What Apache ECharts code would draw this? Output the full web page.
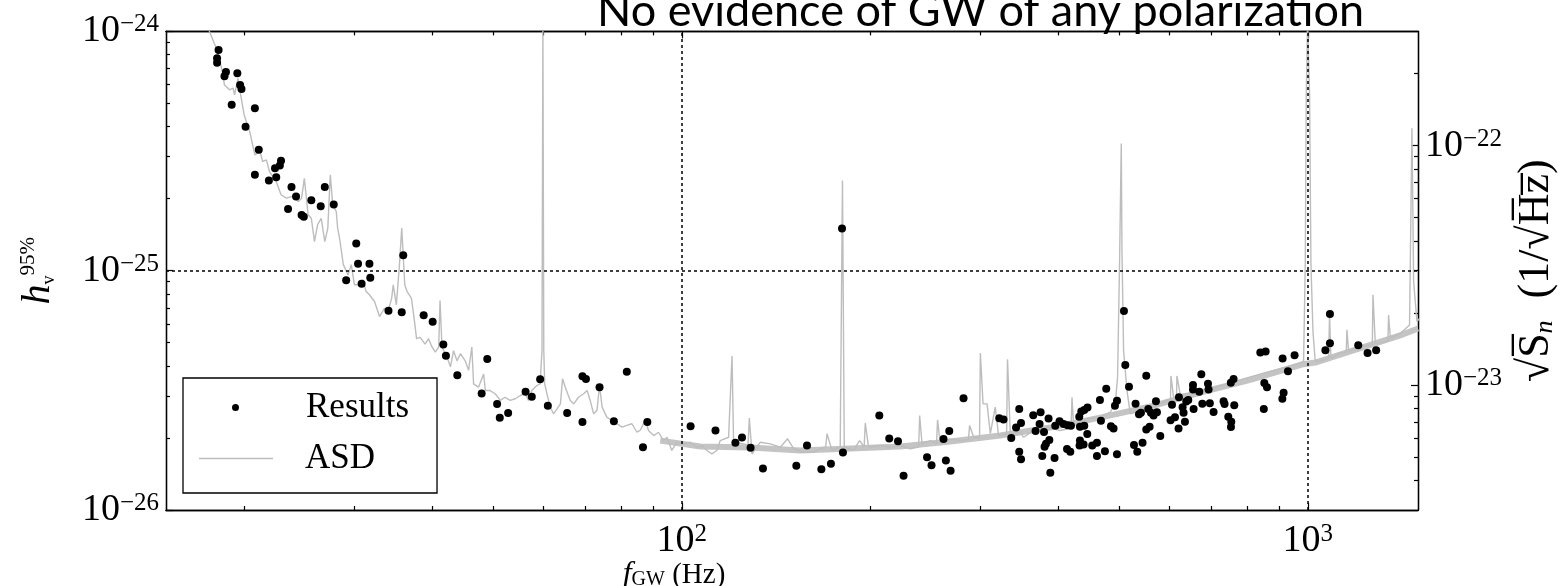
<!DOCTYPE html>
<html><head><meta charset="utf-8">
<script src="https://cdn.jsdelivr.net/npm/echarts@6/dist/echarts.min.js"></script>
<style>html,body{margin:0;padding:0;background:#fff}#c{width:1562px;height:586px}</style>
</head><body><div id="c"></div>
<script>
const titleText = 'No evidence of GW of any polarization';
const xMajorExp = [2, 3];
const xMinorTicks = [20,30,40,50,60,70,80,90,200,300,400,500,600,700,800,900];
const yLeftExp = [-26, -25, -24];
const yLeftMinorTicks = [2e-26,3e-26,4e-26,5e-26,6e-26,7e-26,8e-26,9e-26,2e-25,3e-25,4e-25,5e-25,6e-25,7e-25,8e-25,9e-25];
const yRightExp = [-23, -22];
const yRightMinorTicks = [4e-24,5e-24,6e-24,7e-24,8e-24,9e-24,2e-23,3e-23,4e-23,5e-23,6e-23,7e-23,8e-23,9e-23,2e-22];
const gridLinesX = [100, 1000];
const gridLinesY = [1e-25];

const resultsFreq = [
18.2,18.1,18.1,18.7,18.6,19.5,19.7,19.8,19.1,20.8,
20.1,21.1,20.8,22.9,22.8,22.4,22.5,21.9,23.8,26.9,
24.2,25.6,26.5,27.8,23.5,24.7,24.9,30.2,30.4,31.7,
35.9,29.1,30.8,31.8,34.0,35.7,38.7,40.0,41.6,42.0,
43.8,48.9,47.9,50.7,51.2,52.8,56.3,57.6,59.4,61.1,
65.6,69.4,70.3,69.4,73.9,81.7,77.9,88.1,86.7,103.3,
113.2,121.8,124.8,128.8,134.8,152.4,158.5,167.1,173.1,180.3,
180.9,206.8,214.5,221.5,226.1,246.5,250.6,261.9,267.5,264.2,
268.8,281.9,321.5,326.6,336.0,342.0,346.0,348.3,346.0,348.3,
364.3,374.3,372.9,367.4,379.0,385.4,386.5,381.8,379.8,376.6,
387.9,394.0,395.0,401.3,407.3,413.4,418.5,412.5,417.5,431.5,
434.7,439.5,444.8,432.6,439.5,444.4,432.6,432.0,438.4,452.6,
460.5,460.5,474.2,465.6,467.3,476.5,484.8,489.5,492.0,495.7,
495.7,508.6,511.1,518.1,530.8,537.5,541.4,527.7,534.1,544.6,
552.1,556.2,561.7,572.1,574.2,567.1,552.1,558.9,581.3,606.9,
613.6,603.7,622.6,621.7,636.5,633.3,631.0,639.6,644.4,655.6,
655.6,657.1,671.0,676.0,678.5,692.8,694.3,697.5,707.2,733.7,
736.4,746.5,754.8,753.9,753.5,761.2,763.1,839.8,856.4,852.3,
860.8,850.7,911.6,952.6,929.8,915.0,910.8,1067,1085,1085,
1204,1246,1286];
const resultsH = [
8.36e-25,7.72e-25,7.40e-25,6.76e-25,6.49e-25,6.68e-25,5.97e-25,5.74e-25,4.94e-25,4.77e-25,
4.00e-25,3.20e-25,2.52e-25,2.88e-25,2.75e-25,2.68e-25,2.46e-25,2.38e-25,2.24e-25,2.24e-25,
2.04e-25,1.97e-25,1.86e-25,1.89e-25,1.81e-25,1.71e-25,1.68e-25,1.30e-25,1.07e-25,1.07e-25,
1.16e-25,9.12e-26,8.82e-26,9.35e-26,6.81e-26,6.70e-26,6.51e-26,6.12e-26,4.92e-26,4.41e-26,
3.66e-26,4.28e-26,3.07e-26,2.77e-26,2.43e-26,2.54e-26,3.12e-26,2.97e-26,3.52e-26,2.73e-26,
2.54e-26,3.62e-26,3.53e-26,2.33e-26,3.26e-26,3.78e-26,2.35e-26,2.33e-26,1.83e-26,2.24e-26,
2.15e-26,1.91e-26,2.01e-26,1.82e-26,1.49e-26,1.53e-26,1.86e-26,1.48e-26,1.56e-26,1.50e-25,
1.74e-26,2.48e-26,1.99e-26,1.94e-26,1.39e-26,1.66e-26,1.54e-26,1.98e-26,2.14e-26,1.61e-26,
1.46e-26,2.93e-26,2.42e-26,2.39e-26,2.00e-26,2.21e-26,2.64e-26,2.31e-26,1.75e-26,1.63e-26,
2.49e-26,2.56e-26,2.29e-26,2.14e-26,2.12e-26,2.41e-26,1.96e-26,1.89e-26,1.84e-26,1.68e-26,
1.43e-26,1.65e-26,2.25e-26,2.35e-26,2.29e-26,2.26e-26,2.25e-26,1.80e-26,1.75e-26,2.45e-26,
2.58e-26,2.62e-26,2.68e-26,2.23e-26,2.25e-26,2.08e-26,1.95e-26,1.86e-26,1.88e-26,1.86e-26,
1.91e-26,1.68e-26,1.76e-26,2.88e-26,2.36e-26,3.21e-26,2.24e-26,2.19e-26,2.73e-26,2.86e-26,
1.71e-26,6.79e-26,4.04e-26,3.27e-26,2.78e-26,2.51e-26,2.55e-26,1.87e-26,1.75e-26,1.91e-26,
3.64e-26,2.64e-26,2.55e-26,2.85e-26,2.56e-26,2.48e-26,2.17e-26,2.23e-26,2.04e-26,2.75e-26,
2.44e-26,2.37e-26,2.96e-26,2.19e-26,2.34e-26,2.55e-26,2.69e-26,2.84e-26,2.88e-26,3.33e-26,
3.19e-26,2.64e-26,3.12e-26,3.69e-26,2.78e-26,3.37e-26,3.19e-26,2.79e-26,2.57e-26,2.85e-26,
2.77e-26,2.45e-26,2.34e-26,2.22e-26,3.40e-26,3.53e-26,2.74e-26,4.55e-26,4.60e-26,3.39e-26,
3.26e-26,2.64e-26,4.30e-26,4.43e-26,3.80e-26,3.09e-26,2.92e-26,4.65e-26,6.59e-26,4.97e-26,
4.88e-26,4.53e-26,4.65e-26];

const asdFreq = [
17.3,17.6,18.05,18.4,18.6,18.95,19.2,19.3,19.55,19.7,
20.0,20.4,20.8,21.2,21.4,21.7,21.95,22.5,22.9,23.35,
23.9,24.4,24.7,24.95,25.3,25.6,25.9,26.2,26.55,26.9,
27.2,27.45,27.7,28.06,28.2,28.4,28.8,29.3,29.65,30.0,
30.6,30.95,31.3,31.7,32.3,32.9,33.5,33.95,34.4,34.6,
35.0,35.4,35.7,36.1,36.4,37.0,37.4,37.7,38.2,38.9,
39.4,39.9,40.4,40.9,41.1,41.4,42.2,42.7,43.2,43.75,
44.3,45.1,45.65,46.2,46.5,47.35,48.25,48.55,49.4,50.35,
51.3,52.2,53.2,54.2,55.2,56.2,56.9,57.6,58.7,59.4,
59.8,60.0,60.2,60.4,60.9,61.65,62.4,63.2,64.0,64.5,
65.15,66.35,67.2,68.4,69.7,70.6,71.4,72.3,73.2,73.9,
74.6,75.9,77.3,78.8,80.3,81.7,83.25,84.8,85.8,87.4,
88.5,90.2,91.8,93.5,94.7,96.4,98.2,100.7,103.2,105.8,
107.7,109.7,111.7,113.8,115.2,118.8,120.3,121.0,125.5,127.6,
128.2,129.5,133.5,138.5,143.7,147.6,150.9,156.5,162.4,166.4,
169.8,170.6,173.8,179.1,180.6,181.8,188.1,192.3,195.6,196.4,
198.8,207.5,215.3,223.4,231.7,239.0,239.9,242.0,249.5,255.3,
256.2,258.8,268.5,278.6,287.0,288.3,292.6,299.0,299.9,302.9,
307.4,311.1,316.8,320.7,330.3,331.4,334.8,347.3,351.6,364.8,
383.2,402.3,418.7,420.1,422.6,444.0,466.1,483.6,492.6,496.8,
500.5,503.6,504.9,507.9,514.3,520.6,540.1,567.1,595.8,603.5,
604.6,610.4,617.0,618.0,625.6,665.3,707.2,752.0,799.7,850.2,
903.9,949.1,984.7,990.8,994.5,999.3,1006.6,1011.8,1019.3,1028,
1060,1080,1083.4,1089,1127,1152,1155,1162,1213,1268,
1271,1282,1343,1346,1355,1405,1454,1464,1467,1476,
1494,1510];
const asdVal = [
3.67e-22,3.00e-22,2.55e-22,2.11e-22,1.79e-22,1.71e-22,1.74e-22,1.63e-22,1.91e-22,1.68e-22,
1.34e-22,1.15e-22,9.15e-23,9.45e-23,8.58e-23,8.72e-23,7.79e-23,7.08e-23,6.23e-23,6.03e-23,
6.13e-23,5.84e-23,6.03e-23,7.30e-23,5.14e-23,4.97e-23,3.97e-23,4.67e-23,4.97e-23,3.97e-23,
4.52e-23,7.55e-23,5.65e-23,5.30e-23,4.52e-23,4.10e-23,3.18e-23,2.88e-23,3.18e-23,2.62e-23,
2.62e-23,2.75e-23,2.46e-23,2.38e-23,2.23e-23,1.93e-23,2.09e-23,2.03e-23,2.30e-23,2.62e-23,
2.16e-23,3.18e-23,4.52e-23,2.62e-23,2.46e-23,2.30e-23,1.86e-23,1.56e-23,1.58e-23,1.48e-23,
1.56e-23,1.44e-23,1.37e-23,1.44e-23,2.25e-23,1.44e-23,1.30e-23,1.19e-23,1.39e-23,1.26e-23,
1.35e-23,1.26e-23,1.15e-23,1.44e-23,1.01e-23,9.78e-24,1.11e-23,9.47e-24,9.47e-24,9.18e-24,
8.61e-24,8.88e-24,8.61e-24,8.75e-24,9.03e-24,9.18e-24,8.61e-24,9.47e-24,9.94e-24,1.01e-23,
1.39e-23,3.10e-22,1.39e-23,1.01e-23,9.18e-24,8.07e-24,7.57e-24,7.94e-24,8.33e-24,1.06e-23,
9.78e-24,8.61e-24,8.33e-24,8.88e-24,9.18e-24,9.47e-24,8.61e-24,7.57e-24,7.81e-24,9.94e-24,
8.07e-24,7.33e-24,7.10e-24,6.88e-24,6.66e-24,6.77e-24,6.88e-24,6.34e-24,6.45e-24,7.10e-24,
6.45e-24,6.14e-24,6.34e-24,5.85e-24,6.04e-24,5.32e-24,5.76e-24,5.67e-24,5.76e-24,5.49e-24,
5.58e-24,5.32e-24,5.15e-24,5.32e-24,5.85e-24,6.04e-24,1.32e-23,5.76e-24,5.67e-24,5.60e-24,
7.26e-24,5.15e-24,5.76e-24,5.67e-24,5.49e-24,5.95e-24,5.41e-24,5.23e-24,5.23e-24,5.41e-24,
5.50e-24,6.25e-24,5.32e-24,5.49e-24,7.14e-23,5.49e-24,5.32e-24,5.85e-24,5.50e-24,6.92e-24,
5.49e-24,5.58e-24,5.49e-24,5.58e-24,5.41e-24,5.50e-24,7.45e-24,5.67e-24,5.85e-24,5.70e-24,
7.14e-24,5.67e-24,5.95e-24,5.85e-24,5.90e-24,6.77e-24,6.04e-24,6.00e-24,1.36e-23,8.33e-24,
8.33e-24,6.25e-24,8.07e-24,6.14e-24,6.20e-24,1.28e-23,6.25e-24,6.34e-24,6.04e-24,6.45e-24,
6.66e-24,6.45e-24,6.60e-24,8.88e-24,6.77e-24,7.21e-24,7.33e-24,7.69e-24,8.33e-24,1.08e-23,
3.31e-23,1.02e-22,3.64e-23,1.39e-23,9.47e-24,7.57e-24,7.81e-24,8.07e-24,8.61e-24,8.70e-24,
1.09e-23,8.88e-24,8.90e-24,1.09e-23,9.09e-24,9.38e-24,9.68e-24,1.02e-23,1.07e-23,1.12e-23,
1.17e-23,1.21e-23,1.25e-23,3.18e-23,1.63e-22,3.30e-22,1.63e-22,3.18e-23,1.67e-23,1.25e-23,
1.27e-23,1.30e-23,1.96e-23,1.29e-23,1.36e-23,1.37e-23,1.70e-23,1.38e-23,1.45e-23,1.47e-23,
2.38e-23,1.49e-23,1.52e-23,1.96e-23,1.57e-23,1.64e-23,1.78e-23,1.79e-23,1.18e-22,2.70e-23,
1.84e-23,1.90e-23];

const asdBandFreq = [92.4,107.1,128.7,154.6,185.9,223.4,268.5,322.7,387.9,466.1,560.3,673.5,809.2,983.5,1028,1169,1405,1500];
const asdBandVal = [5.85e-24,5.53e-24,5.47e-24,5.32e-24,5.42e-24,5.53e-24,5.80e-24,6.14e-24,6.63e-24,7.30e-24,8.12e-24,9.29e-24,1.05e-23,1.22e-23,1.24e-23,1.38e-23,1.61e-23,1.72e-23];

// ECharts rounds very small numbers to 0 on log axes, so each y axis works in a unit
// (left: 1e-26, right: 1e-24) and its tick labels show the true powers of ten.
const LEFT_UNIT_EXP = -26, RIGHT_UNIT_EXP = -24;
const toLeft = v => +(v * Math.pow(10, -LEFT_UNIT_EXP)).toPrecision(12);
const toRight = v => +(v * Math.pow(10, -RIGHT_UNIT_EXP)).toPrecision(12);

const SERIF = '"Liberation Serif", "Times New Roman", serif';
function powText(e) { return '{b|10}{s|' + String(e).replace('-', '\u2212') + '}'; }
const powLabel = shift => v => powText(Math.round(Math.log10(v)) + shift);
const powRich = {
  b: { fontFamily: SERIF, fontSize: 38, lineHeight: 38, color: '#000', verticalAlign: 'bottom' },
  s: { fontFamily: SERIF, fontSize: 25, lineHeight: 22, color: '#000', verticalAlign: 'top' }
};
const lineStyleBlack = { color: '#000', width: 1.3 };
const tickStyle = { color: '#000', width: 1.2 };

function xAx(pos, ticks, len, labels) {
  return {
    type: 'log', logBase: 10, min: 15, max: 1500, position: pos,
    axisLine: { show: true, onZero: false, lineStyle: lineStyleBlack },
    axisTick: { show: true, inside: true, length: len, customValues: ticks, lineStyle: tickStyle },
    axisLabel: { show: !!labels, customValues: labels || [], formatter: powLabel(0), rich: powRich, margin: 12 },
    splitLine: { show: false }, minorTick: { show: false }, minorSplitLine: { show: false }
  };
}
function yAx(pos, min, max, ticks, len, labels, shift) {
  return {
    type: 'log', logBase: 10, min: min, max: max, position: pos,
    axisLine: { show: true, onZero: false, lineStyle: lineStyleBlack },
    axisTick: { show: true, inside: true, length: len, customValues: ticks, lineStyle: tickStyle },
    axisLabel: { show: !!labels, customValues: labels || [], formatter: powLabel(shift), rich: powRich, margin: 7,
                 showMinLabel: true, showMaxLabel: true, hideOverlap: false },
    splitLine: { show: false }, minorTick: { show: false }, minorSplitLine: { show: false }
  };
}

const xMajor = xMajorExp.map(e => Math.pow(10, e));
const yLeftMajor = yLeftExp.map(e => toLeft(Math.pow(10, e)));
const yRightMajor = yRightExp.map(e => toRight(Math.pow(10, e)));
const yLeftMin = toLeft(1e-26), yLeftMax = toLeft(1e-24);
const yRightMin = toRight(3e-24), yRightMax = toRight(3e-22);

const x0 = xAx('bottom', xMajor, 7, xMajor);
x0.name = '{i|f}{g|GW} {t|(Hz)}';
x0.nameLocation = 'middle';
x0.nameGap = 50;
x0.nameMoveOverlap = false;
x0.nameTextStyle = {
  fontFamily: SERIF, fontSize: 29, color: '#000', padding: [0, 236, 0, 0], lineHeight: 30,
  rich: {
    i: { fontFamily: SERIF, fontStyle: 'italic', fontSize: 32, lineHeight: 30, color: '#000' },
    g: { fontFamily: SERIF, fontSize: 20, lineHeight: 18, color: '#000', verticalAlign: 'bottom' },
    t: { fontFamily: SERIF, fontSize: 29, lineHeight: 30, color: '#000' }
  }
};

const y0 = yAx('left', yLeftMin, yLeftMax, yLeftMajor, 7, yLeftMajor, LEFT_UNIT_EXP);
y0.name = '{h|h}{v|v}{p|95%}';
y0.nameLocation = 'middle';
y0.nameRotate = 90;
y0.nameGap = 108;
y0.nameTextStyle = {
  fontFamily: SERIF, color: '#000', lineHeight: 40,
  rich: {
    h: { fontFamily: SERIF, fontStyle: 'italic', fontSize: 40, lineHeight: 40, color: '#000', verticalAlign: 'middle' },
    v: { fontFamily: SERIF, fontSize: 18, lineHeight: 18, color: '#000', verticalAlign: 'bottom' },
    p: { fontFamily: SERIF, fontSize: 21, lineHeight: 20, color: '#000', verticalAlign: 'top' }
  }
};

const y2 = yAx('right', yRightMin, yRightMax, yRightMajor, 7, yRightMajor, RIGHT_UNIT_EXP);
y2.name = '{t|\u221AS\u0305}{n|n}{t|  (1/\u221AH\u0305z\u0305)}';
y2.nameLocation = 'middle';
y2.nameRotate = 90;
y2.nameGap = 96;
y2.nameTextStyle = {
  fontFamily: SERIF, color: '#000', lineHeight: 44,
  rich: {
    t: { fontFamily: SERIF, fontSize: 44, lineHeight: 44, color: '#000', verticalAlign: 'middle' },
    n: { fontFamily: SERIF, fontStyle: 'italic', fontSize: 26, lineHeight: 24, color: '#000', verticalAlign: 'bottom' }
  }
};

const option = {
  animation: false,
  backgroundColor: '#fff',
  title: {
    text: titleText, left: 592, top: -16,
    textStyle: { fontFamily: 'Lato, "Open Sans", sans-serif', fontSize: 45, fontWeight: 'normal', color: '#000' }
  },
  grid: { left: 166, top: 31.4, right: 144, bottom: 76, containLabel: false, outerBoundsMode: 'none' },
  xAxis: [
    x0,
    xAx('bottom', xMinorTicks, 4, null),
    xAx('top', xMajor, 7, null),
    xAx('top', xMinorTicks, 4, null)
  ],
  yAxis: [
    y0,
    yAx('left', yLeftMin, yLeftMax, yLeftMinorTicks.map(toLeft), 4, null, LEFT_UNIT_EXP),
    y2,
    yAx('right', yRightMin, yRightMax, yRightMinorTicks.map(toRight), 4, null, RIGHT_UNIT_EXP)
  ],
  legend: [
    {
      data: [{ name: 'ASD', icon: 'rect' }], orient: 'vertical', left: 183, top: 378,
      padding: [63, 62, 17, 16], itemWidth: 74, itemHeight: 1.6,
      borderColor: '#000', borderWidth: 1.3, borderRadius: 0, backgroundColor: '#fff',
      selectedMode: false,
      textStyle: { fontFamily: SERIF, fontSize: 35, color: '#000', padding: [0, 0, 0, 27] },
      z: 5
    },
    {
      data: [{ name: 'Results', icon: 'circle' }], orient: 'vertical', left: 232, top: 390,
      padding: 0, itemWidth: 7, itemHeight: 7, selectedMode: false,
      textStyle: { fontFamily: SERIF, fontSize: 35, color: '#000', padding: [0, 0, 0, 62] },
      z: 6
    }
  ],
  series: [
    {
      name: 'ASD', type: 'line', xAxisIndex: 0, yAxisIndex: 2, symbol: 'none', showSymbol: false,
      data: asdFreq.map((f, i) => [f, toRight(asdVal[i])]),
      lineStyle: { color: '#bdbdbd', width: 1.4 }, itemStyle: { color: '#bdbdbd' },
      z: 2, clip: true
    },
    {
      name: 'ASD', type: 'line', xAxisIndex: 0, yAxisIndex: 2, symbol: 'none', showSymbol: false,
      data: asdBandFreq.map((f, i) => [f, toRight(asdBandVal[i])]),
      lineStyle: { color: '#c4c4c4', width: 6, join: 'round' }, itemStyle: { color: '#c4c4c4' },
      z: 1, clip: true
    },
    {
      name: 'grid', type: 'line', xAxisIndex: 0, yAxisIndex: 0, data: [], symbol: 'none',
      markLine: {
        silent: true, symbol: 'none', label: { show: false },
        lineStyle: { color: '#000', type: [3, 3], width: 1.5, opacity: 1 },
        data: gridLinesX.map(v => ({ xAxis: v })).concat(gridLinesY.map(v => ({ yAxis: toLeft(v) })))
      }
    },
    {
      name: 'Results', type: 'scatter', xAxisIndex: 0, yAxisIndex: 0,
      data: resultsFreq.map((f, i) => [f, toLeft(resultsH[i])]),
      symbol: 'circle', symbolSize: 8, itemStyle: { color: '#000', opacity: 1 }, z: 4
    }
  ]
};
const chart = echarts.init(document.getElementById('c'), null, { renderer: 'canvas' });
chart.setOption(option);
</script>
</body></html>
